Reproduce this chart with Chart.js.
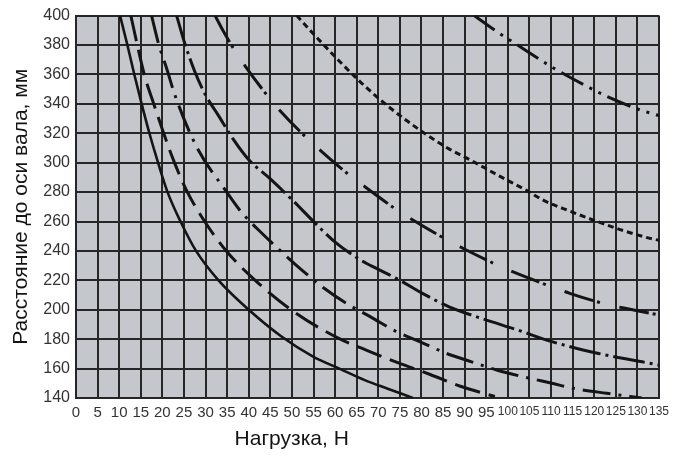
<!DOCTYPE html>
<html lang="ru">
<head>
<meta charset="utf-8">
<script src="https://cdn.jsdelivr.net/npm/chart.js@4/dist/chart.umd.min.js"></script>
<style>
  html, body { margin: 0; padding: 0; background: #fff; }
  #wrap { width: 678px; height: 457px; }
</style>
</head>
<body>
<div id="wrap"><canvas id="chart" width="678" height="457"></canvas></div>
<script>
'use strict';

// Axis ranges (load, N / distance to shaft axis, mm)
const loadMin = 0, loadMax = 135, loadStep = 5;
const distMin = 140, distMax = 400, distStep = 20;

// Curve 1 — solid
const load1 = [10.2, 11.9, 13.5, 15.2, 17, 19, 21.2, 24.2, 27.8, 33, 40, 47.5, 55, 61, 67, 72.5, 78];
const dist1 = [400, 380, 360, 340, 320, 300, 280, 260, 240, 220, 200, 182, 168, 160, 152, 146, 140];

// Curve 2 — long dash
const load2 = [12.7, 14.2, 15.8, 18, 20.3, 22.8, 25.8, 29.8, 34.8, 41.5, 49.8, 60.5, 67.2, 74.5, 82, 89, 97];
const dist2 = [400, 380, 360, 340, 320, 300, 280, 260, 240, 220, 200, 181, 172.6, 164, 156, 148, 141];

// Curve 3 — dash dot
const load3 = [17.5, 19.1, 21, 22.9, 27.9, 34.9, 38.4, 43.4, 47, 52.3, 57.3, 63.1, 68.3, 74.3, 79.7, 85.8, 91.6, 97.4, 103.6, 110.2, 115.2, 122.9, 131];
const dist3 = [400, 381, 364, 346, 311, 280, 266, 251, 241, 227, 215, 203.5, 195, 185, 178.2, 170.3, 164.6, 159, 154.4, 150, 146.6, 143.2, 140];

// Curve 4 — dense dash dot
const load4 = [23.3, 25.2, 27.5, 30, 33, 36.4, 40, 45, 50.3, 55, 60, 65.8, 70, 75, 80, 86.4, 94, 102.5, 110, 121, 135];
const dist4 = [400, 381, 362, 346, 332, 316, 302, 289, 274, 260, 246, 234, 227.5, 220, 211.5, 202, 194, 186, 178.5, 170.3, 162.4];

// Curve 5 — long dash, dot
const load5 = [32.2, 34, 36.4, 39.1, 44.2, 47.2, 53, 56.9, 63.1, 67.2, 74, 78.3, 85.6, 89.8, 97.5, 101.8, 109.8, 114.5, 122.5, 128, 135];
const dist5 = [400, 390, 378, 366, 346, 335.5, 318, 307.5, 292, 283, 268.5, 260.5, 248, 241.5, 230.5, 225, 216, 211, 204, 200.5, 196.5];

// Curve 6 — short dash
const load6 = [51.1, 55, 60, 65.8, 72, 79.7, 86, 91.2, 98, 104.4, 108.2, 114.4, 119.8, 126, 133.7, 135];
const dist6 = [400, 387.5, 372, 355, 339, 322, 310, 302, 291, 281, 274.5, 267, 261, 254.5, 248, 247.3];

// Curve 7 — dash dot dot
const load7 = [92.2, 97.5, 102.5, 110.2, 117.9, 124.1, 130, 135];
const dist7 = [400, 389, 379.5, 365, 352.5, 343.5, 336.5, 332];

const pts = (xs, ys) => xs.map((x, i) => ({ x, y: ys[i] }));

const INK = '#141414';
const GRID = '#262626';
const PLOT_BG = '#c4c8cd';
const FONT = '"Liberation Sans", Arial, Helvetica, sans-serif';

function curve(xs, ys, dash, width) {
  return {
    data: pts(xs, ys),
    borderColor: INK,
    borderWidth: width || 3,
    borderDash: dash,
    borderCapStyle: 'butt',
    pointRadius: 0,
    fill: false,
    cubicInterpolationMode: 'monotone',
  };
}

// grey plot field behind the grid
const plotBg = {
  id: 'plotBg',
  beforeDraw(chart) {
    const { ctx, chartArea: a } = chart;
    ctx.save();
    ctx.fillStyle = PLOT_BG;
    ctx.fillRect(a.left, a.top, a.right - a.left, a.bottom - a.top);
    ctx.restore();
  },
};

// x title sits left of centre in the original
const loadTitle = {
  id: 'loadTitle',
  afterDraw(chart) {
    const { ctx, chartArea: a } = chart;
    ctx.save();
    ctx.font = '21px ' + FONT;
    ctx.fillStyle = INK;
    ctx.textAlign = 'center';
    ctx.textBaseline = 'middle';
    ctx.fillText('Нагрузка, Н', a.left + (a.right - a.left) * 0.37, 439);
    ctx.restore();
  },
};

new Chart(document.getElementById('chart'), {
  type: 'line',
  data: {
    datasets: [
      curve(load1, dist1, [], 2.6),
      curve(load2, dist2, [26, 9]),
      curve(load3, dist3, [28, 8, 3, 8]),
      curve(load4, dist4, [32, 5, 3, 5]),
      curve(load5, dist5, [30, 4, 3, 20]),
      curve(load6, dist6, [6, 4]),
      curve(load7, dist7, [25, 7, 3, 7, 3, 7]),
    ],
  },
  options: {
    responsive: false,
    animation: false,
    layout: { padding: { top: 15, right: 19, left: 0, bottom: 0 } },
    plugins: { legend: { display: false }, tooltip: { enabled: false } },
    scales: {
      x: {
        type: 'linear',
        min: loadMin, max: loadMax,
        afterFit: s => { s.height = 59; },
        grid: { color: GRID, lineWidth: 2, drawTicks: false },
        border: { color: GRID, width: 2 },
        ticks: {
          stepSize: loadStep,
          autoSkip: false,
          maxRotation: 0,
          padding: 6,
          color: '#333',
          // three-digit labels are squeezed in the original
          font: c => (c.tick && c.tick.value >= 100)
            ? { family: FONT, size: 12 }
            : { family: FONT, size: 15 },
        },
      },
      y: {
        min: distMin, max: distMax,
        afterFit: s => { s.width = 76; },
        grid: { color: GRID, lineWidth: 2, drawTicks: false },
        border: { color: GRID, width: 2 },
        ticks: { stepSize: distStep, padding: 6, color: '#333', font: { family: FONT, size: 16 } },
        title: {
          display: true,
          text: 'Расстояние до оси вала, мм',
          color: INK,
          font: { family: FONT, size: 21 },
          padding: { top: 9, bottom: 0 },
        },
      },
    },
  },
  plugins: [plotBg, loadTitle],
});
</script>
</body>
</html>
